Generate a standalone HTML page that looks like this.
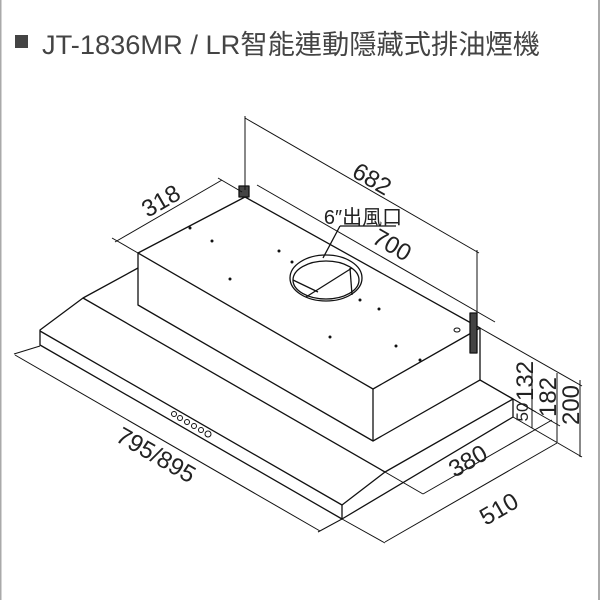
<!DOCTYPE html>
<html><head><meta charset="utf-8"><style>
html,body{margin:0;padding:0;background:#fff}
svg{display:block}
text{font-family:"Liberation Sans","Noto Sans CJK TC",sans-serif;fill:#222}
</style></head><body>
<svg width="600" height="600" viewBox="0 0 600 600" xmlns="http://www.w3.org/2000/svg">
<rect x="0" y="0" width="1.5" height="600" fill="#aaa"/>
<rect x="598" y="0" width="2" height="600" fill="#aaa"/>
<rect x="15" y="35" width="13" height="13" fill="#444"/>
<text x="42" y="54" font-size="27" textLength="498" lengthAdjust="spacingAndGlyphs" style="fill:#444">JT-1836MR / LR智能連動隱藏式排油煙機</text>
<g stroke="#111" stroke-width="1.3" fill="none" stroke-linejoin="round">
<polyline points="138,268 83,298 40,330 40,345 342,519 513,417 513,399 480,380"/>
<polyline points="40,331 342,505 385,472 513,399"/>
<line x1="342" y1="505" x2="342" y2="519"/>
<line x1="83" y1="298" x2="385" y2="472"/>
<polygon points="138,253 245,197 480,328 373,389" fill="#fff"/>
<polyline points="138,253 138,305 373,441 480,380 480,328"/>
<line x1="373" y1="389" x2="373" y2="441"/>
<ellipse cx="326" cy="278" rx="36" ry="23"/>
<ellipse cx="326" cy="280" rx="33" ry="19"/>
<line x1="293" y1="280" x2="318" y2="292"/>
<line x1="306" y1="297" x2="352" y2="268"/>
<line x1="350" y1="268" x2="352" y2="295"/>
<line x1="340" y1="226" x2="396" y2="226"/>
<line x1="340" y1="226" x2="323" y2="258"/>
<rect x="239" y="186" width="10" height="11" fill="#444"/>
<rect x="470" y="313" width="7" height="40" fill="#444"/>
<g stroke-width="1">
<line x1="115" y1="242" x2="222" y2="180"/>
<line x1="112" y1="238" x2="138" y2="253"/>
<line x1="218" y1="178" x2="242" y2="192"/>
<line x1="245" y1="116" x2="245" y2="190"/>
<line x1="245" y1="118" x2="479" y2="253"/>
<line x1="477" y1="250" x2="477" y2="330"/>
<line x1="257" y1="185" x2="495" y2="322"/>
<line x1="15" y1="355" x2="320" y2="531"/>
<line x1="40" y1="346" x2="14" y2="354"/>
<line x1="342" y1="519" x2="318" y2="532"/>
<line x1="423" y1="494" x2="552" y2="420"/>
<line x1="385" y1="472" x2="423" y2="494"/>
<line x1="385" y1="542" x2="557" y2="443"/>
<line x1="342" y1="519" x2="385" y2="543"/>
<line x1="532" y1="362" x2="532" y2="428"/>
<line x1="557" y1="373" x2="557" y2="442"/>
<line x1="580" y1="380" x2="580" y2="457"/>
<line x1="480" y1="328" x2="582" y2="386"/>
<line x1="513" y1="417" x2="582" y2="457"/>
<line x1="480" y1="380" x2="536" y2="412"/>
<line x1="513" y1="399" x2="560" y2="426"/>
</g>
<g stroke-width="1"><circle cx="174" cy="414" r="2.5"/><circle cx="180" cy="418" r="2.5"/><circle cx="187" cy="422" r="2.5"/><circle cx="194" cy="426" r="2.5"/><circle cx="201" cy="430" r="2.5"/><circle cx="208" cy="434" r="3"/></g>
</g>
<g fill="#111">
<circle cx="190" cy="228" r="1.5"/><circle cx="212" cy="241" r="1.5"/><circle cx="279" cy="251" r="1.5"/><circle cx="230" cy="279" r="1.5"/>
<circle cx="292" cy="262" r="1.5"/><circle cx="360" cy="300" r="1.5"/><circle cx="379" cy="309" r="1.5"/><circle cx="330" cy="337" r="1.5"/><circle cx="396" cy="346" r="1.5"/><circle cx="420" cy="360" r="1.5"/>
</g>
<ellipse cx="457" cy="330" rx="3" ry="2" fill="none" stroke="#111"/>
<g font-size="24" text-anchor="middle">
<text transform="translate(165,208) rotate(-30)">318</text>
<text transform="translate(368,186) rotate(30)">682</text>
<text transform="translate(388,252) rotate(30)">700</text>
<text x="363" y="224" font-size="20">6″出風口</text>
<text transform="translate(152,462) rotate(30)">795/895</text>
<text transform="translate(472,468) rotate(-30)">380</text>
<text transform="translate(503,516) rotate(-30)">510</text>
<text transform="translate(533,381) rotate(-90)">132</text>
<text transform="translate(556,397) rotate(-90)">182</text>
<text transform="translate(579,405) rotate(-90)">200</text>
<text transform="translate(528,412) rotate(-90)" font-size="17">50</text>
</g>
</svg>
</body></html>
